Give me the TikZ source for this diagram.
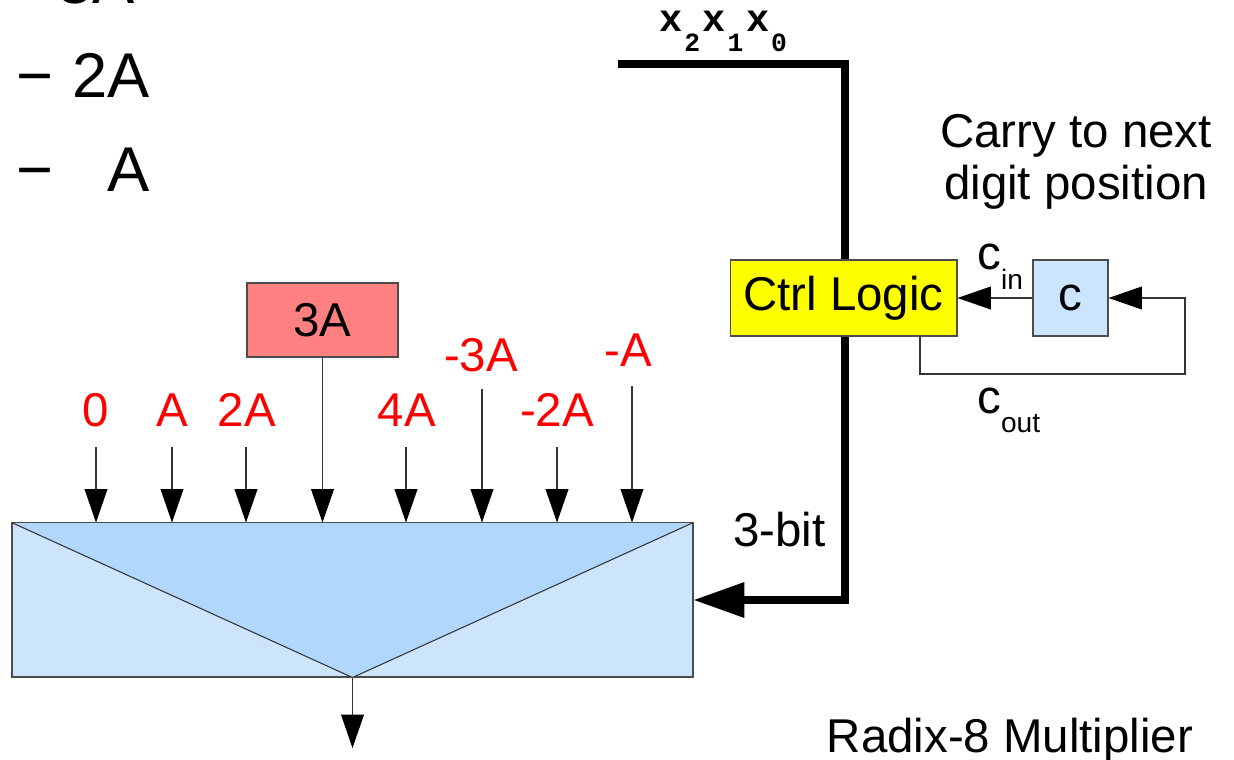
\documentclass[tikz,border=0pt]{standalone}
\usepackage{fontspec}
\setmainfont{Liberation Sans}
\setmonofont{Liberation Mono}
\usetikzlibrary{arrows.meta}
\definecolor{muxpale}{HTML}{CCE4FC}
\definecolor{muxdeep}{HTML}{B2D7FD}
\definecolor{tripink}{HTML}{FF8080}
\definecolor{ctrlyel}{HTML}{FFFF00}
\definecolor{regblue}{HTML}{CCE5FF}
\newcommand{\xbit}[1]{{\fontsize{22}{24}\selectfont\bfseries x}\kern1pt\raisebox{-11pt}{\fontsize{15}{16}\selectfont\bfseries #1}\kern1.5pt}
\tikzset{
  sigline/.style={draw=black!80, line width=0.6pt},
  thintip/.style={-{Triangle[length=19pt,width=13pt,color=black]}},
  bustip/.style={-{Triangle[length=29pt,width=19.3pt]}},
  bus/.style={line width=4pt},
  blockbox/.style={draw=black!70, line width=0.6pt, inner sep=0pt},
  big/.style={font=\fontsize{27}{30}\selectfont},
  val/.style={big, text=red, anchor=base},
}
\begin{document}
\begin{tikzpicture}[x=0.02cm,y=-0.02cm]
  \useasboundingbox (0,0) rectangle (1234,760);
  % partial list of multiples, top left
  \node[font=\fontsize{36}{40}\selectfont, anchor=base east, inner sep=0pt] (top3a) at (135,4) {3A};
  \node[font=\fontsize{36}{40}\selectfont, anchor=base, inner sep=0pt] (minusb) at (35,98) {−};
  \node[font=\fontsize{36}{40}\selectfont, anchor=base east, inner sep=0pt] (top2a) at (150,98) {2A};
  \node[font=\fontsize{36}{40}\selectfont, anchor=base, inner sep=0pt] (minusc) at (35,192) {−};
  \node[font=\fontsize{36}{40}\selectfont, anchor=base east, inner sep=0pt] (top1a) at (150,192) {A};
  % multiplier bits
  \node[anchor=base west, inner sep=0pt, font=\ttfamily] (xbits) at (659,32) {\xbit{2}\xbit{1}\xbit{0}};
  \coordinate (busin) at (618,64);
  \coordinate (buscorner) at (845,64);
  % mux
  \node[blockbox, fill=muxpale, minimum width=13.62cm, minimum height=3.08cm] (mux) at (352.5,600) {};
  \fill[muxdeep] (mux.north west) -- (mux.north east) -- (mux.south) -- cycle;
  \draw[sigline] (mux.north west) -- (mux.south) -- (mux.north east);
  \draw[draw=black!70, line width=0.6pt] (mux.north west) rectangle (mux.south east);
  \draw[bus, bustip] (busin) -- (buscorner) |- (mux.east);
  \node[big, anchor=base] (bitw) at (779.5,546) {3-bit};
  % control and carry register
  \node[blockbox, big, fill=ctrlyel, minimum width=4.54cm, minimum height=1.52cm] (ctrl) at (843.5,298) {Ctrl Logic};
  \node[blockbox, big, fill=regblue, minimum width=1.5cm, minimum height=1.52cm] (creg) at (1070.5,298) {c};
  \draw[sigline, thintip] (creg.west) -- (ctrl.east);
  \coordinate (fbstart) at (920,336);
  \coordinate (fbcorner) at (1185,374);
  \draw[sigline, thintip] (fbstart) |- (fbcorner) |- (creg.east);
  \node[big, anchor=base west, inner sep=0pt] (cin) at (977,270) {c\raisebox{-11pt}{\fontsize{16}{17}\selectfont in}};
  \node[big, anchor=base west, inner sep=0pt] (cout) at (977,413) {c\raisebox{-11pt}{\fontsize{16}{17}\selectfont out}};
  \node[big, anchor=base] (carrya) at (1076,148) {Carry to next};
  \node[big, anchor=base] (carryb) at (1076,200) {digit position};
  % precomputed 3A
  \node[blockbox, big, fill=tripink, minimum width=3.02cm, minimum height=1.48cm] (three) at (322.5,320) {3A};
  \draw[sigline, thintip] (three.south) -- (three.south |- mux.north);
  % mux inputs
  \foreach \nm/\lx/\ax/\by/\ay/\lab in {z/96/96/426/447/0, a/172/172/426/447/A, b/247/246/426/447/2A,
      d/407/406/426/447/4A, e/481/482/371/389/-3A, f/557/557/426/447/-2A, g/628/632/366/386/-A} {
    \node[val] (v\nm) at (\lx,\by) {\lab};
    \coordinate (s\nm) at (\ax,\ay);
    \draw[sigline, thintip] (s\nm) -- (s\nm |- mux.north);
  }
  % output
  \coordinate (prod) at (352.5,748);
  \draw[sigline, thintip] (mux.south) -- (prod);
  \node[big, anchor=base] (title) at (1010,752) {Radix-8 Multiplier};
\end{tikzpicture}
\end{document}
